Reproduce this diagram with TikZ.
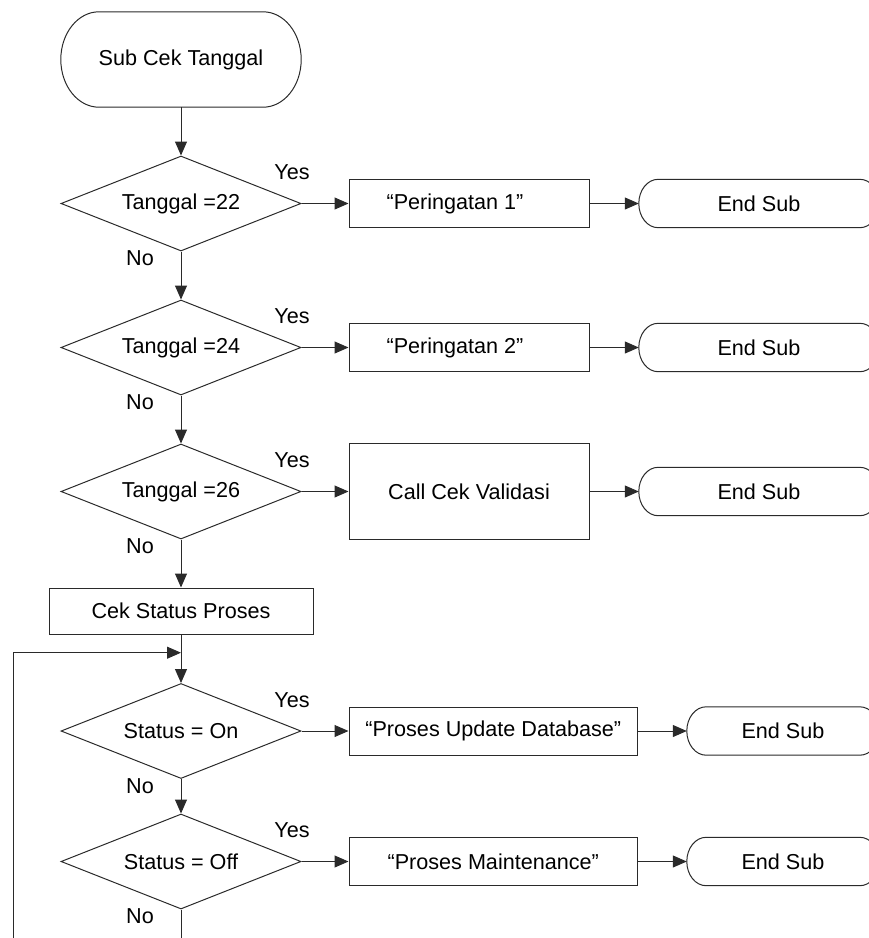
\documentclass[tikz,border=0pt]{standalone}
\usepackage{fontspec}
\setmainfont{Liberation Sans}
\usetikzlibrary{shapes.geometric,arrows.meta,calc}

\definecolor{linec}{HTML}{2A2A2A}

% outline of a terminator: straight top and bottom, elliptic ends
\newcommand\termoutline[1]{%
  \draw[plain] let \p1=(#1.north east), \p2=(#1.south west),
      \n1={(\y1-\y2)/2}, \n2={0.8*\n1} in
    (\x2+\n2,\y1) -- (\x1-\n2,\y1)
    arc[start angle=90,end angle=-90,x radius=\n2,y radius=\n1]
    -- (\x2+\n2,\y2)
    arc[start angle=270,end angle=90,x radius=\n2,y radius=\n1] -- cycle;}

\tikzset{
  every node/.style={font=\fontsize{21.6}{26}\selectfont, text=black},
  plain/.style={draw=linec, line width=1pt},
  proc/.style={rectangle, draw=linec, line width=1pt, inner sep=0pt},
  % text block sitting a little left of the box centre
  lefttext/.style={execute at begin node={\hspace*{-28pt}}},
  dec/.style={diamond, draw=linec, line width=1pt, inner sep=0pt,
    minimum width=240pt, minimum height=95pt, shape aspect=2.526},
  term/.style={rectangle, inner sep=0pt},
  flow/.style={draw=linec, line width=1pt, -{Triangle[length=14pt,width=12pt]}},
  lbl/.style={inner sep=0pt},
}

\begin{document}
\begin{tikzpicture}[x=1pt,y=1pt]
\useasboundingbox (0,0) rectangle (869,-938);

% start
\node[term, minimum width=240pt, minimum height=95pt] (start) at (181,-59.5) {Sub Cek Tanggal};
\termoutline{start}

% date checks
\node[dec] (d1) at (181,-203.5) {Tanggal =22};
\node[dec] (d2) at (181,-347.5) {Tanggal =24};
\node[dec] (d3) at (181,-491.5) {Tanggal =26};

\node[proc, lefttext, minimum width=240pt, minimum height=48pt] (p1) at (469,-203.5) {“Peringatan 1”};
\node[proc, lefttext, minimum width=240pt, minimum height=48pt] (p2) at (469,-347.5) {“Peringatan 2”};
\node[proc, minimum width=240pt, minimum height=96pt] (p3) at (469,-491.5) {Call Cek Validasi};

\node[term, minimum width=240pt, minimum height=48pt] (e1) at (759,-203.5) {End Sub};
\node[term, minimum width=240pt, minimum height=48pt] (e2) at (759,-347.5) {End Sub};
\node[term, minimum width=240pt, minimum height=48pt] (e3) at (759,-491.5) {End Sub};
\termoutline{e1}
\termoutline{e2}
\termoutline{e3}

% status check
\node[proc, minimum width=264pt, minimum height=46pt] (cek) at (181,-611) {Cek Status Proses};
\coordinate (join) at (181,-652.7);

\node[dec] (d4) at (181,-731) {Status = On};
\node[dec] (d5) at (181,-861.5) {Status = Off};

\node[proc, minimum width=288.5pt, minimum height=48pt] (p4) at (493.25,-731) {“Proses Update Database”};
\node[proc, minimum width=288.5pt, minimum height=48pt] (p5) at (493.25,-861.5) {“Proses Maintenance”};

\node[term, minimum width=192pt, minimum height=48pt] (e4) at (783,-731) {End Sub};
\node[term, minimum width=192pt, minimum height=48pt] (e5) at (783,-861.5) {End Sub};
\termoutline{e4}
\termoutline{e5}

\coordinate (tail) at (181,-938);
\coordinate (loopfoot) at (13,-938);

% branch labels
\foreach \d in {d1,d2,d3,d4,d5}{
  \node[lbl] (yes-\d) at ($(\d.center)+(111,31)$) {Yes};
  \node[lbl] (no-\d) at ($(\d.center)+(-41,-55)$) {No};
}

% connectors
\draw[flow] (start) -- (d1);
\draw[flow] (d1) -- (d2);
\draw[flow] (d2) -- (d3);
\draw[flow] (d3) -- (cek);
\draw[plain] (cek) -- (join);
\draw[flow] (join) -- (d4);
\draw[flow] (d4) -- (d5);
\draw[plain] (d5) -- (tail);
\draw[flow] (loopfoot) |- (join);

\foreach \i in {1,...,5}{
  \draw[flow] (d\i) -- (p\i);
  \draw[flow] (p\i) -- (e\i);
}
\end{tikzpicture}
\end{document}
